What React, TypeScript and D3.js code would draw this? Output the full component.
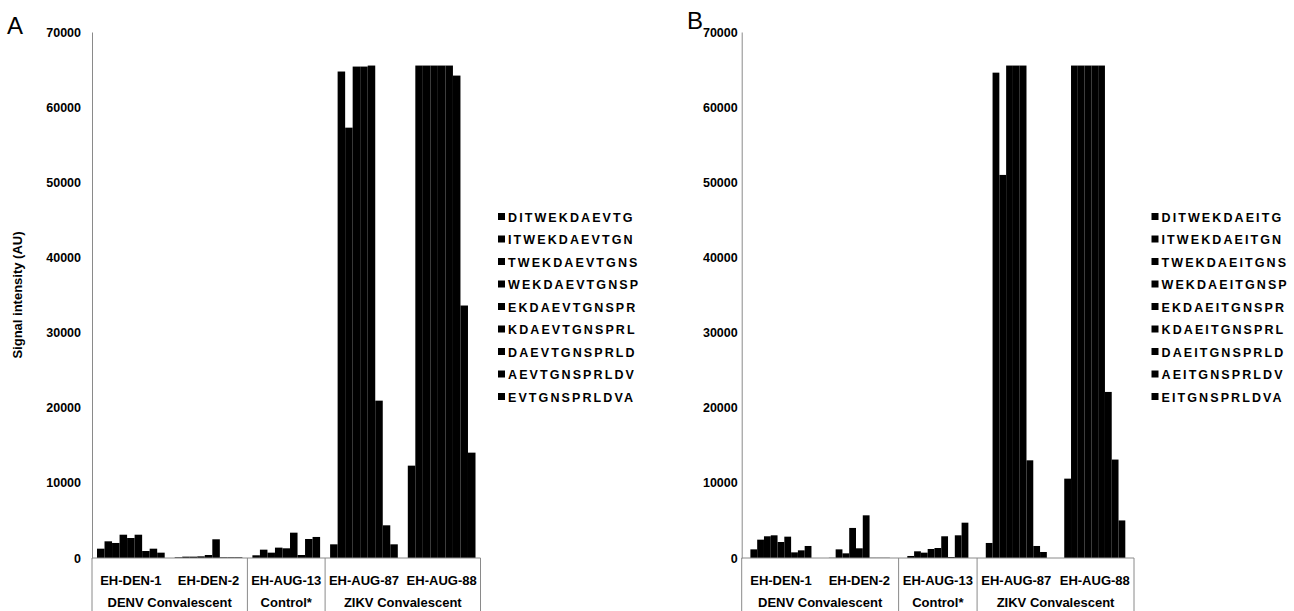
import React, { useEffect, useRef } from 'react';
import * as d3 from 'd3';

// Sample groups (inner x categories) and their outer grouping
const groups = ['EH-DEN-1', 'EH-DEN-2', 'EH-AUG-13', 'EH-AUG-87', 'EH-AUG-88'];
const outerLabels = ['DENV Convalescent', 'Control*', 'ZIKV Convalescent'];
const outerSpans = [2, 1, 2];

const yTicks = [0, 10000, 20000, 30000, 40000, 50000, 60000, 70000];

// Peptide series (legend), one bar per peptide in each group
const peptidesA = [
  'DITWEKDAEVTG', 'ITWEKDAEVTGN', 'TWEKDAEVTGNS', 'WEKDAEVTGNSP', 'EKDAEVTGNSPR',
  'KDAEVTGNSPRL', 'DAEVTGNSPRLD', 'AEVTGNSPRLDV', 'EVTGNSPRLDVA',
];
const peptidesB = [
  'DITWEKDAEITG', 'ITWEKDAEITGN', 'TWEKDAEITGNS', 'WEKDAEITGNSP', 'EKDAEITGNSPR',
  'KDAEITGNSPRL', 'DAEITGNSPRLD', 'AEITGNSPRLDV', 'EITGNSPRLDVA',
];

// Panel A signal intensities (AU), per group, in peptide order
const aDen1 = [1240, 2220, 2000, 3100, 2660, 3100, 930, 1240, 710];
const aDen2 = [90, 180, 180, 220, 400, 2490, 90, 90, 90];
const aAug13 = [360, 1110, 710, 1380, 1290, 3370, 400, 2530, 2800];
const aAug87 = [1820, 64740, 57270, 65400, 65400, 65535, 20940, 4350, 1820];
const aAug88 = [12290, 65535, 65535, 65535, 65535, 65535, 64200, 33600, 14020];

// Panel B signal intensities (AU)
const bDen1 = [1150, 2440, 2890, 3020, 2130, 2840, 750, 1020, 1600];
const bDen2 = [30, 1150, 620, 4000, 1290, 5680, 30, 30, 30];
const bAug13 = [270, 890, 710, 1200, 1330, 2890, 130, 3020, 4700];
const bAug87 = [2000, 64590, 50980, 65535, 65535, 65535, 13000, 1600, 800];
const bAug88 = [10560, 65535, 65535, 65535, 65535, 65535, 22100, 13100, 5000];

const W = 1294;
const H = 611;
const FONT = '"Liberation Sans", Arial, sans-serif';
const AXIS_GREY = '#8a8a8a';

interface PanelCfg {
  letter: string;
  letterX: number;
  letterY: number;
  x0: number;
  x1: number;
  pad: number;
  tickPad: number;
  legendX: number;
  peptides: string[];
  values: number[][];
  yTitle?: string;
}

const panels: PanelCfg[] = [
  {
    letter: 'A', letterX: 7, letterY: 34, x0: 92, x1: 480.5, pad: 5, tickPad: 11, legendX: 498,
    peptides: peptidesA, values: [aDen1, aDen2, aAug13, aAug87, aAug88],
    yTitle: 'Signal intensity (AU)',
  },
  {
    letter: 'B', letterX: 687, letterY: 29, x0: 741.7, x1: 1134, pad: 8.7, tickPad: 4, legendX: 1151.5,
    peptides: peptidesB, values: [bDen1, bDen2, bAug13, bAug87, bAug88],
  },
];

export default function App() {
  const svgRef = useRef<SVGSVGElement>(null);

  useEffect(() => {
    if (!svgRef.current) return;
    const svg = d3.select(svgRef.current);
    svg.selectAll('*').remove();

    const y = d3.scaleLinear().domain([0, 70000]).range([558, 32]);

    panels.forEach(p => {
      const g = svg.append('g');

      const xGroup = d3.scaleBand<string>().domain(groups).range([p.x0, p.x1]).padding(0);
      const xBar = d3.scaleBand<number>()
        .domain(d3.range(p.peptides.length))
        .range([p.pad, xGroup.bandwidth() - p.pad])
        .padding(0);

      // bars
      groups.forEach((grp, gi) => {
        g.selectAll(null)
          .data(p.values[gi])
          .enter().append('rect')
          .attr('x', (_d, j) => (xGroup(grp) as number) + (xBar(j) as number))
          .attr('y', d => y(d))
          .attr('width', xBar.bandwidth())
          .attr('height', d => y(0) - y(d))
          .attr('fill', '#000');
      });

      // y axis
      const yAxis = g.append('g')
        .attr('transform', `translate(${p.x0},0)`)
        .call(d3.axisLeft(y).tickValues(yTicks).tickSize(0).tickPadding(p.tickPad).tickFormat(d3.format('d')) as any);
      yAxis.select('.domain').attr('stroke', AXIS_GREY);
      yAxis.selectAll('text')
        .attr('font-family', FONT)
        .attr('font-size', 12.5)
        .attr('font-weight', 'bold')
        .attr('fill', '#000');

      // x baseline
      g.append('line')
        .attr('x1', p.x0).attr('x2', p.x1)
        .attr('y1', y(0)).attr('y2', y(0))
        .attr('stroke', AXIS_GREY);

      // separators between outer groups
      const bounds: number[] = [p.x0];
      let idx = 0;
      outerSpans.forEach(s => {
        idx += s;
        bounds.push(idx >= groups.length ? p.x1 : (xGroup(groups[idx]) as number));
      });
      g.selectAll(null)
        .data(bounds)
        .enter().append('line')
        .attr('x1', d => d).attr('x2', d => d)
        .attr('y1', y(0)).attr('y2', H)
        .attr('stroke', AXIS_GREY);

      // inner category labels
      g.selectAll(null)
        .data(groups)
        .enter().append('text')
        .attr('x', d => (xGroup(d) as number) + xGroup.bandwidth() / 2)
        .attr('y', 585)
        .attr('text-anchor', 'middle')
        .attr('font-family', FONT)
        .attr('font-size', 13)
        .attr('font-weight', 'bold')
        .text(d => d);

      // outer category labels
      g.selectAll(null)
        .data(outerLabels)
        .enter().append('text')
        .attr('x', (_d, i) => (bounds[i] + bounds[i + 1]) / 2)
        .attr('y', 606.5)
        .attr('text-anchor', 'middle')
        .attr('font-family', FONT)
        .attr('font-size', 13)
        .attr('font-weight', 'bold')
        .text(d => d);

      // panel letter
      g.append('text')
        .attr('x', p.letterX)
        .attr('y', p.letterY)
        .attr('font-family', FONT)
        .attr('font-size', 24)
        .text(p.letter);

      // y title
      if (p.yTitle) {
        g.append('text')
          .attr('transform', `translate(21.5,295) rotate(-90)`)
          .attr('text-anchor', 'middle')
          .attr('font-family', FONT)
          .attr('font-size', 13)
          .attr('font-weight', 'bold')
          .text(p.yTitle);
      }

      // legend
      const legend = g.append('g').attr('transform', `translate(${p.legendX},217)`);
      const rows = legend.selectAll(null)
        .data(p.peptides)
        .enter().append('g')
        .attr('transform', (_d, i) => `translate(0,${i * 22.5})`);
      rows.append('rect')
        .attr('x', 0).attr('y', -4)
        .attr('width', 7).attr('height', 7)
        .attr('fill', '#000');
      rows.append('text')
        .attr('x', 10)
        .attr('y', 4.5)
        .attr('font-family', FONT)
        .attr('font-size', 12.5)
        .attr('font-weight', 'bold')
        .attr('letter-spacing', 2.1)
        .text(d => d);
    });
  }, []);

  return (
    <svg
      ref={svgRef}
      width={W}
      height={H}
      style={{ position: 'absolute', left: 0, top: 0, background: '#fff' }}
    />
  );
}
